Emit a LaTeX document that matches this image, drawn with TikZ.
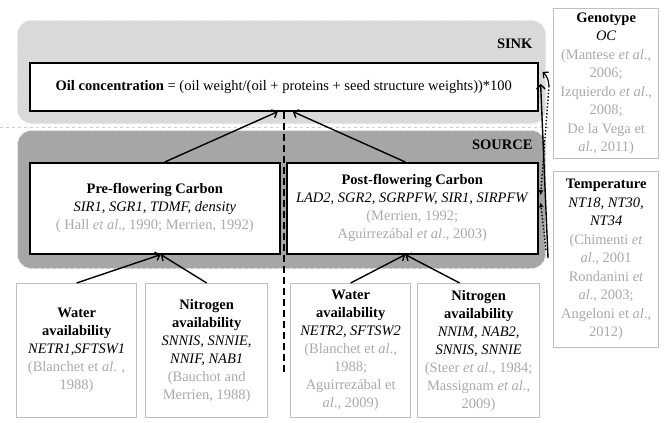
\documentclass[tikz,border=0pt]{standalone}
\usepackage{fontspec}
\setmainfont{Liberation Serif}
\usetikzlibrary{arrows.meta,positioning,calc}
\definecolor{sinkfill}{HTML}{D9D9D9}
\definecolor{sourcefill}{HTML}{A6A6A6}
\definecolor{refgray}{HTML}{AAAAAA}
\definecolor{boxedge}{HTML}{BFBFBF}
\tikzset{
  >=Straight Barb[],
  zone/.style={rectangle,rounded corners=14pt,draw=white!80!gray,dashed,line width=1pt,anchor=north west,inner sep=0pt},
  mainbox/.style={rectangle,draw,line width=1.6pt,fill=white,anchor=north west,inner sep=0pt,align=center},
  factorbox/.style={rectangle,draw=boxedge,line width=1.3pt,fill=white,anchor=north west,inner sep=0pt,align=center},
  link/.style={->,line width=1.4pt},
  divider/.style={line width=1.5pt,dash pattern=on 7pt off 4pt},
}
\newcommand{\refs}[1]{{\color{refgray}#1}}

\begin{document}
\begin{tikzpicture}[x=1pt,y=-1pt,font=\fontsize{14.5}{18}\selectfont]
  \useasboundingbox (0,0) rectangle (664,423);

  % sink part
  \node[zone,fill=sinkfill,minimum width=528,minimum height=103] (sink) at (17,20) {};
  \node[anchor=east,font=\fontsize{14.5}{18}\selectfont\bfseries] (sinklbl) at (536,44) {SINK};
  \node[mainbox,minimum width=508,minimum height=48] (oil) at (29,62)
    {\textbf{Oil concentration} = (oil weight/(oil + proteins + seed structure weights))*100};

  \draw[gray!40,dashed,line width=0.6pt] (0,127) -- (550,127);

  % source part
  \node[zone,fill=sourcefill,minimum width=528,minimum height=138] (source) at (17,130) {};
  \node[anchor=east,font=\fontsize{14.5}{18}\selectfont\bfseries] (sourcelbl) at (536,145) {SOURCE};
  \node[mainbox,minimum width=250,minimum height=91] (pre) at (29,162)
    {\textbf{Pre-flowering Carbon}\\\textit{SIR1, SGR1, TDMF, density}\\\refs{( Hall \textit{et al}., 1990; Merrien, 1992)}};
  \node[mainbox,minimum width=251,minimum height=91] (post) at (286,162)
    {\textbf{Post-flowering Carbon}\\\textit{LAD2, SGR2, SGRPFW, SIR1, SIRPFW}\\\refs{(Merrien, 1992;}\\\refs{Aguirrezábal \textit{et al}., 2003)}};

  % environmental factors
  \node[factorbox,minimum width=120,minimum height=134] (wat1) at (16,283)
    {\textbf{Water}\\\textbf{availability}\\\textit{NETR1,SFTSW1}\\\refs{(Blanchet et \textit{al}. ,}\\\refs{1988)}};
  \node[factorbox,minimum width=122,minimum height=134] (nit1) at (145,283)
    {\textbf{Nitrogen}\\\textbf{availability}\\\textit{SNNIS, SNNIE,}\\\textit{NNIF, NAB1}\\\refs{(Bauchot and}\\\refs{Merrien, 1988)}};
  \node[factorbox,minimum width=120,minimum height=134] (wat2) at (290,283)
    {\textbf{Water}\\\textbf{availability}\\\textit{NETR2, SFTSW2}\\\refs{(Blanchet et \textit{al}.,}\\\refs{1988;}\\\refs{Aguirrezábal et}\\\refs{\textit{al}., 2009)}};
  \node[factorbox,minimum width=122,minimum height=134] (nit2) at (417,283)
    {\textbf{Nitrogen}\\\textbf{availability}\\\textit{NNIM, NAB2,}\\\textit{SNNIS, SNNIE}\\\refs{(Steer \textit{et al}., 1984;}\\\refs{Massignam \textit{et al}.,}\\\refs{2009)}};

  \node[factorbox,minimum width=105,minimum height=150,font=\fontsize{14.5}{18.5}\selectfont] (geno) at (553,8)
    {\textbf{Genotype}\\\textit{OC}\\\refs{(Mantese \textit{et al}.,}\\\refs{2006;}\\\refs{Izquierdo \textit{et al}.,}\\\refs{2008;}\\\refs{De la Vega et}\\\refs{\textit{al}., 2011)}};
  \node[factorbox,minimum width=105,minimum height=176,font=\fontsize{14.5}{18.5}\selectfont] (temp) at (553,171)
    {\textbf{Temperature}\\\textit{NT18, NT30,}\\\textit{NT34}\\\refs{(Chimenti \textit{et}}\\\refs{\textit{al}., 2001}\\\refs{Rondanini \textit{et}}\\\refs{\textit{al}., 2003;}\\\refs{Angeloni et \textit{al}.,}\\\refs{2012)}};

  \coordinate (dbot) at (283,372);
  \draw[divider] (oil.south) -- (oil.south |- dbot);

  \draw[link] ([xshift=10]pre.north) -- ([xshift=-6]oil.south);
  \draw[link] ([xshift=-7]post.north) -- ([xshift=9]oil.south);

  \draw[link] (wat1.north) -- ([xshift=6]pre.south);
  \draw[link] (nit1.north) -- ([xshift=6]pre.south);
  \draw[link] (wat2.north) -- ([xshift=-7]post.south);
  \draw[link] ([xshift=-19]nit2.north) -- ([xshift=-7]post.south);

  % genotype and temperature links
  \coordinate (gsrc) at (549,86);
  \coordinate (tsolid) at (548,258);
  \coordinate (tdot) at (546,250);
  \draw[link] (tsolid) -- ([xshift=2,yshift=3]oil.east);
  \draw[->,line width=1.2pt] (gsrc) to[out=95,in=-40] ([xshift=4,yshift=-10]oil.north east);
  \draw[-{Latex[length=5pt,width=5pt]},line width=1.4pt,dotted] (gsrc) -- ([xshift=2,yshift=13]post.east);
  \draw[-{Latex[length=5pt,width=5pt]},line width=1.4pt,dotted] (tdot) -- ([xshift=2,yshift=6]post.east);
\end{tikzpicture}
\end{document}
